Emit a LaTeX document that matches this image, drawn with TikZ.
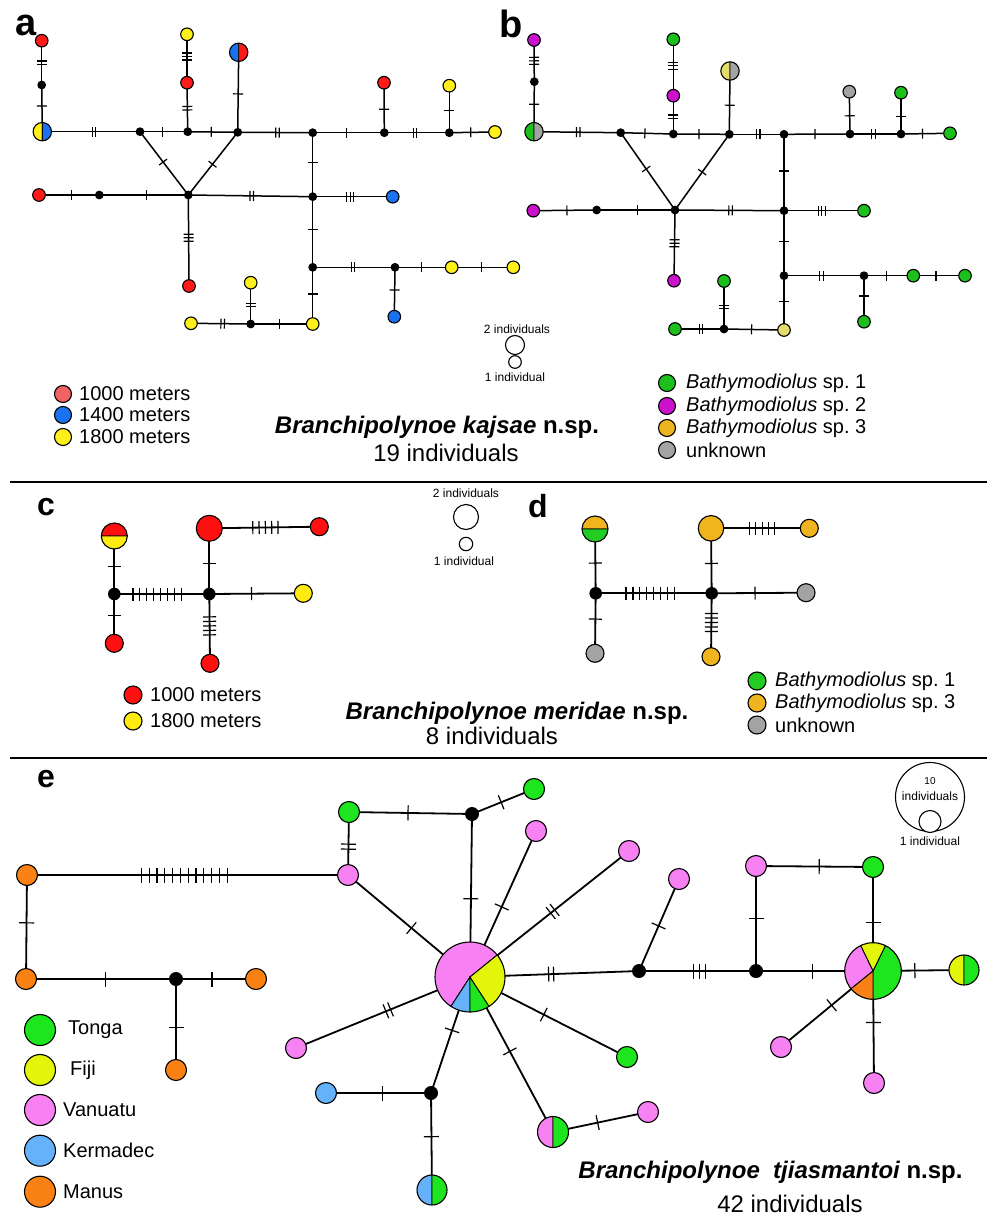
\documentclass[tikz,border=0pt]{standalone}
\usepackage{fontspec}
\setmainfont{Liberation Sans}
\usetikzlibrary{decorations.markings,backgrounds}
\definecolor{redA}{HTML}{FF1A1A}
\definecolor{redL}{HTML}{F26262}
\definecolor{blueA}{HTML}{1A72F0}
\definecolor{yellowA}{HTML}{FFEF1A}
\definecolor{greenB}{HTML}{1DBF1D}
\definecolor{magB}{HTML}{CC11CC}
\definecolor{grayB}{HTML}{A3A3A3}
\definecolor{khakiB}{HTML}{E3DB6A}
\definecolor{goldB}{HTML}{EBB51F}
\definecolor{redC}{HTML}{FF1010}
\definecolor{yellowC}{HTML}{FFEB10}
\definecolor{greenD}{HTML}{22CC22}
\definecolor{orangeD}{HTML}{F0B41E}
\definecolor{greenE}{HTML}{1EE61E}
\definecolor{limeE}{HTML}{E2F50A}
\definecolor{pinkE}{HTML}{F780F2}
\definecolor{blueE}{HTML}{66B2FA}
\definecolor{orangeE}{HTML}{FA8214}
\tikzset{
  hap/.style={circle, draw, line width=1.1pt, inner sep=0pt},
  med/.style={circle, fill=black, inner sep=0pt},
  cutline/.style={line width=1.2pt},
  cut len/.store in=\cutlen, cut len=5pt,
  cut gap/.store in=\cutgap, cut gap=3.5pt,
  cuts/.style 2 args={postaction={decorate,decoration={markings,
      mark=at position #2 with {\foreach \k in {1,...,#1}
        \draw[cutline] ({(\k-(#1+1)/2)*\cutgap},-\cutlen) -- ({(\k-(#1+1)/2)*\cutgap},\cutlen);}}}},
  pie/.style={path picture={\foreach \pc/\pa/\pb in {#1}
      \filldraw[fill=\pc, draw=black, line width=0.9pt] (path picture bounding box.center)
        -- ++(\pa:80pt) arc[start angle=\pa, end angle=\pb, radius=80pt] -- cycle;}},
  panel/.style={font=\fontsize{38}{40}\selectfont\bfseries, anchor=base},
  legt/.style={anchor=west, inner sep=0pt, font=\fontsize{20}{22}\selectfont},
  tiny/.style={inner sep=0pt, font=\fontsize{12}{14}\selectfont},
  title/.style={inner sep=0pt, font=\fontsize{24}{26}\selectfont}
}
\begin{document}
\begin{tikzpicture}[x=1pt,y=-1pt]
\useasboundingbox (0,0) rectangle (987,1220);

% a
\node[panel] (pa) at (26,36) {a};
\foreach \n/\x/\y/\c in {aR1/41.7/40.7/redA, aY1/187/34.3/yellowA, aR2/187/82.7/redA, aR3/384/82.7/redA,
    aY2/449.3/85.7/yellowA, aY3/495/132/yellowA, aR4/39/195/redA, aB1/392.7/196.7/blueA, aR5/189/286/redA,
    aY4/312.7/324/yellowA, aY5/451.7/267.3/yellowA, aY6/513.3/267.3/yellowA, aB2/394.3/316.7/blueA,
    aY7/191/323.3/yellowA, aY8/250.7/282.7/yellowA}
  \node[hap, fill=\c, minimum size=12.6pt] (\n) at (\x,\y) {};
\foreach \n/\x/\y in {aK1/41.7/85, aK2/140/131.7, aK3/187.7/131.7, aK4/237.7/132.3, aK5/312.7/132.7,
    aK6/384.3/132.7, aK7/449.3/132.7, aK8/188.3/195, aK9/99.3/195, aK10/312.7/196.7, aK11/312.7/267.3,
    aK12/395/267.3, aK13/250.7/324}
  \node[med, minimum size=8.8pt] (\n) at (\x,\y) {};
\node[hap, fill=white, minimum size=18.4pt, pie={yellowA/90/270, blueA/-90/90}] (aH1) at (42.3,131.7) {};
\node[hap, fill=white, minimum size=18.4pt, pie={blueA/90/270, redA/-90/90}] (aH2) at (238.7,52.3) {};
\begin{scope}[on background layer={line width=1.5pt}]
  \foreach \p/\q/\nc/\fr in {aR1/aK1/2/0.5, aK1/aH1/1/0.45, aH1/aK2/2/0.53, aK2/aK3/1/0.48, aK3/aR2/2/0.48,
      aR2/aY1/3/0.54, aK3/aK4/1/0.47, aK4/aH2/1/0.48, aK4/aK5/2/0.53, aK5/aK6/1/0.47, aK6/aR3/1/0.47,
      aK6/aK7/2/0.47, aK7/aY2/1/0.48, aK7/aY3/1/0.47, aK2/aK8/1/0.48, aK4/aK8/1/0.51, aR4/aK9/1/0.54,
      aK9/aK8/1/0.53, aK8/aK10/2/0.51, aK10/aB1/3/0.47, aK5/aK10/1/0.46, aK8/aR5/3/0.47, aK10/aK11/1/0.46,
      aK11/aY4/1/0.47, aK11/aK12/2/0.49, aK12/aY5/1/0.47, aY5/aY6/1/0.48, aK12/aB2/1/0.46, aY7/aK13/2/0.53,
      aK13/aY4/1/0.46, aK13/aY8/2/0.46}
    \draw[cuts={\nc}{\fr}] (\p.center) -- (\q.center);
\end{scope}
\foreach \y/\c/\t [count=\i] in {394/redL/1000 meters, 415/blueA/1400 meters, 437/yellowA/1800 meters} {
  \node[hap, fill=\c, minimum size=17pt] (kA\i) at (63,\y) {};
  \node[legt] (lA\i) at (79,\y) {\t};
}

% b
\node[panel] (pb) at (511,38) {b};
\foreach \n/\x/\y/\c in {bM1/534/40/magB, bG1/673.3/39.3/greenB, bM2/673.3/95.7/magB, bX1/849.3/91.7/grayB,
    bG2/901/92.7/greenB, bG3/950/133.3/greenB, bM3/533.3/210.7/magB, bG4/864/210.7/greenB, bM4/674/280.7/magB,
    bY1/784/330/khakiB, bG5/913.3/275.7/greenB, bG6/965/275.7/greenB, bG7/864/321.7/greenB,
    bG8/675/329/greenB, bG9/724/281/greenB}
  \node[hap, fill=\c, minimum size=12.6pt] (\n) at (\x,\y) {};
\foreach \n/\x/\y in {bK1/534.3/81.7, bK2/620.7/132.7, bK3/673.3/134, bK4/729.3/134.3, bK5/784/134.3,
    bK6/850/134, bK7/901/134, bK8/675/210, bK9/596.7/210, bK10/784/210.7, bK11/784/275.7,
    bK12/864/275.7, bK13/724/329}
  \node[med, minimum size=8.8pt] (\n) at (\x,\y) {};
\node[hap, fill=white, minimum size=18.4pt, pie={greenB/90/270, grayB/-90/90}] (bH1) at (534,131.7) {};
\node[hap, fill=white, minimum size=18.4pt, pie={khakiB/90/270, grayB/-90/90}] (bH2) at (730,71) {};
\begin{scope}[on background layer={line width=1.5pt}]
  \foreach \p/\q/\nc/\fr in {bM1/bK1/3/0.5, bK1/bH1/1/0.45, bH1/bK2/2/0.51, bK2/bK3/1/0.46, bK3/bM2/2/0.45,
      bM2/bG1/3/0.53, bK3/bK4/1/0.46, bK4/bH2/1/0.46, bK4/bK5/2/0.53, bK5/bK6/1/0.47, bK6/bX1/1/0.43,
      bK6/bK7/2/0.46, bK7/bG2/1/0.42, bK7/bG3/1/0.44, bK2/bK8/1/0.47, bK4/bK8/1/0.5, bM3/bK9/1/0.53,
      bK9/bK8/1/0.52, bK8/bK10/2/0.51, bK10/bG4/3/0.47, bK5/bK10/1/0.48, bK8/bM4/3/0.47, bK10/bK11/1/0.47,
      bK11/bY1/1/0.48, bK11/bK12/2/0.47, bK12/bG5/1/0.45, bG5/bG6/1/0.44, bK12/bG7/1/0.44, bG8/bK13/2/0.53,
      bK13/bY1/1/0.46, bK13/bG9/2/0.46}
    \draw[cuts={\nc}{\fr}] (\p.center) -- (\q.center);
\end{scope}
\foreach \y/\c/\t [count=\i] in {383/greenB/\textit{Bathymodiolus} sp.\ 1, 406/magB/\textit{Bathymodiolus} sp.\ 2,
    428/goldB/\textit{Bathymodiolus} sp.\ 3, 450/grayB/unknown} {
  \node[hap, fill=\c, minimum size=17pt] (kB\i) at (667,\y) {};
  \node[legt] (lB\i) at (686,\y) {\t};
}
\node[tiny] (sAt) at (517,329) {2 individuals};
\node[hap, fill=white, minimum size=19pt] (sA2) at (515,345) {};
\node[hap, fill=white, minimum size=12.6pt] (sA1) at (515,362) {};
\node[tiny] (sAb) at (515,377) {1 individual};
\node[title] (tA) at (437,427) {\bfseries\itshape Branchipolynoe kajsae \upshape n.sp.};
\node[title] (nA) at (446,453) {19 individuals};

\draw[line width=2pt] (10,482) -- (987,482);

% c
\node[panel, font=\fontsize{32}{34}\selectfont\bfseries] (pc) at (46,515) {c};
\foreach \n/\x/\y/\c in {cR2/319.3/526.7/redC, cY1/303.3/593.3/yellowC, cR3/114.3/643.3/redC, cR4/210/663.3/redC}
  \node[hap, fill=\c, minimum size=18pt] (\n) at (\x,\y) {};
\node[hap, fill=redC, minimum size=26pt] (cR1) at (209.3,528.3) {};
\node[hap, fill=white, minimum size=26pt, pie={redC/0/180, yellowC/180/360}] (cH1) at (114.3,536) {};
\foreach \n/\x/\y in {cK1/114.3/594, cK2/209.3/594}
  \node[med, minimum size=12.6pt] (\n) at (\x,\y) {};
\begin{scope}[on background layer={line width=1.8pt}, cut len=6.5pt]
  \foreach \p/\q/\nc/\fr/\gp in {cH1/cK1/1/0.53/4, cK1/cR3/1/0.44/4, cK1/cK2/8/0.45/6.9, cK2/cR1/1/0.47/4,
      cR1/cR2/5/0.51/6.3, cK2/cY1/1/0.45/4, cK2/cR4/5/0.46/4.5}
    \draw[cut gap=\gp pt, cuts={\nc}{\fr}] (\p.center) -- (\q.center);
\end{scope}
\foreach \y/\c/\t [count=\i] in {695/redC/1000 meters, 721/yellowC/1800 meters} {
  \node[hap, fill=\c, minimum size=18pt] (kC\i) at (133,\y) {};
  \node[legt] (lC\i) at (150,\y) {\t};
}

% d
\node[panel, font=\fontsize{32}{34}\selectfont\bfseries] (pd) at (538,517) {d};
\foreach \n/\x/\y/\c in {dO2/809.3/528.3/orangeD, dX1/806/592.7/grayB, dX2/595/653.3/grayB, dO3/711/656.7/orangeD}
  \node[hap, fill=\c, minimum size=18pt] (\n) at (\x,\y) {};
\node[hap, fill=orangeD, minimum size=25.5pt] (dO1) at (711,528.3) {};
\node[hap, fill=white, minimum size=26pt, pie={orangeD/0/180, greenD/180/360}] (dH1) at (595,529) {};
\foreach \n/\x/\y in {dK1/595.7/593.3, dK2/711.7/593.3}
  \node[med, minimum size=12.6pt] (\n) at (\x,\y) {};
\begin{scope}[on background layer={line width=1.8pt}, cut len=6.5pt]
  \foreach \p/\q/\nc/\fr/\gp in {dH1/dK1/1/0.53/4, dK1/dX2/1/0.43/4, dK1/dK2/8/0.47/6.9, dK2/dO1/1/0.46/4,
      dO1/dO2/5/0.52/6.3, dK2/dX1/1/0.46/4, dK2/dO3/5/0.46/4.5}
    \draw[cut gap=\gp pt, cuts={\nc}{\fr}] (\p.center) -- (\q.center);
\end{scope}
\foreach \y/\c/\t [count=\i] in {681/greenD/\textit{Bathymodiolus} sp.\ 1, 703/orangeD/\textit{Bathymodiolus} sp.\ 3,
    725/grayB/unknown} {
  \node[hap, fill=\c, minimum size=18pt] (kD\i) at (757,\y) {};
  \node[legt] (lD\i) at (775,\y) {\t};
}
\node[tiny] (sCt) at (466,493) {2 individuals};
\node[hap, fill=white, minimum size=25pt] (sC2) at (466,517) {};
\node[hap, fill=white, minimum size=13.4pt] (sC1) at (466,544) {};
\node[tiny] (sCb) at (464,561) {1 individual};
\node[title] (tC) at (517,713) {\bfseries\itshape Branchipolynoe meridae \upshape n.sp.};
\node[title] (nC) at (492,736) {8 individuals};

\draw[line width=2pt] (10,758) -- (987,758);

% e
\node[panel, font=\fontsize{32}{34}\selectfont\bfseries] (pe) at (46,787) {e};
\foreach \n/\x/\y/\c in {eO1/27/875/orangeE, eO2/26/979/orangeE, eO3/256/979/orangeE, eO4/176/1070/orangeE,
    eP1/348/875/pinkE, eG1/349/812/greenE, eG2/534/789/greenE, ePL/296/1048/pinkE, eBu/326/1093/blueE,
    ePa/536/831/pinkE, ePb/629/851/pinkE, eGc/627/1057/greenE, ePc/648/1112/pinkE, ePd/679/879/pinkE,
    ePe/756/866/pinkE, eGd/873/867/greenE, ePf/781/1047/pinkE, ePg/874/1083/pinkE}
  \node[hap, fill=\c, minimum size=21pt] (\n) at (\x,\y) {};
\foreach \n/\x/\y in {eK1/176/979, eK2/472/814, eK3/431/1093, eK4/639/971, eK5/756/971}
  \node[med, minimum size=14pt] (\n) at (\x,\y) {};
\node[hap, fill=white, minimum size=70pt, pie={pinkE/39/237, blueE/237/270, greenE/270/303, limeE/303/399}] (eH) at (470,977) {};
\node[hap, fill=white, minimum size=56.6pt, pie={greenE/-90/64, limeE/64/116, pinkE/116/219, orangeE/219/270}] (eH2) at (873,971) {};
\node[hap, fill=white, minimum size=30pt, pie={limeE/90/270, greenE/-90/90}] (eYG) at (964,970) {};
\node[hap, fill=white, minimum size=31pt, pie={pinkE/90/270, greenE/-90/90}] (ePG) at (553,1132) {};
\node[hap, fill=white, minimum size=30pt, pie={blueE/90/270, greenE/-90/90}] (eBG) at (432,1190) {};
\begin{scope}[on background layer={line width=1.8pt}, cut len=7.5pt]
  \foreach \p/\q/\nc/\fr/\gp in {eO1/eP1/12/0.49/7.8, eO1/eO2/1/0.46/5, eO2/eK1/1/0.53/5, eK1/eO3/1/0.45/5,
      eK1/eO4/1/0.53/5, eP1/eG1/2/0.45/5, eG1/eK2/1/0.48/5, eK2/eG2/1/0.47/5, eK2/eH/1/0.52/5,
      eP1/eH/1/0.52/5, eH/ePL/2/0.47/5, eH/eK3/1/0.46/5, eK3/eBu/1/0.46/5, eK3/eBG/1/0.45/5,
      eH/ePa/1/0.48/5, eH/ePb/2/0.52/5, eH/eK4/2/0.48/5, eH/eGc/1/0.47/5, eH/ePG/1/0.48/5,
      ePG/ePc/1/0.47/5, eK4/ePd/1/0.49/5, eK4/eK5/3/0.52/6, eK5/ePe/1/0.5/5, ePe/eGd/1/0.54/5,
      eGd/eH2/1/0.53/5, eK5/eH2/1/0.48/5, eH2/eYG/1/0.46/5, eH2/ePf/1/0.45/5, eH2/ePg/1/0.46/5}
    \draw[cut gap=\gp pt, cuts={\nc}{\fr}] (\p.center) -- (\q.center);
\end{scope}
\foreach \y/\c/\t/\x [count=\i] in {1030/greenE/Tonga/68, 1070/limeE/Fiji/70, 1110/pinkE/Vanuatu/63,
    1150.7/blueE/Kermadec/63, 1191.7/orangeE/Manus/63} {
  \node[hap, fill=\c, minimum size=31pt] (kE\i) at (40,\y) {};
  \node[legt] (lE\i) at (\x,\y) {\t};
}
\node[hap, fill=white, minimum size=69pt] (sE2) at (930,797) {};
\node[inner sep=0pt, font=\fontsize{10}{12}\selectfont] (sEn) at (930,781) {10};
\node[tiny] (sEt) at (930,796) {individuals};
\node[hap, fill=white, minimum size=22pt] (sE1) at (930,821.5) {};
\node[tiny] (sEb) at (930,841) {1 individual};
\node[title] (tE) at (770.5,1172) {\bfseries\itshape Branchipolynoe\ \ tjiasmantoi \upshape n.sp.};
\node[title] (nE) at (790,1204) {42 individuals};
\end{tikzpicture}
\end{document}
